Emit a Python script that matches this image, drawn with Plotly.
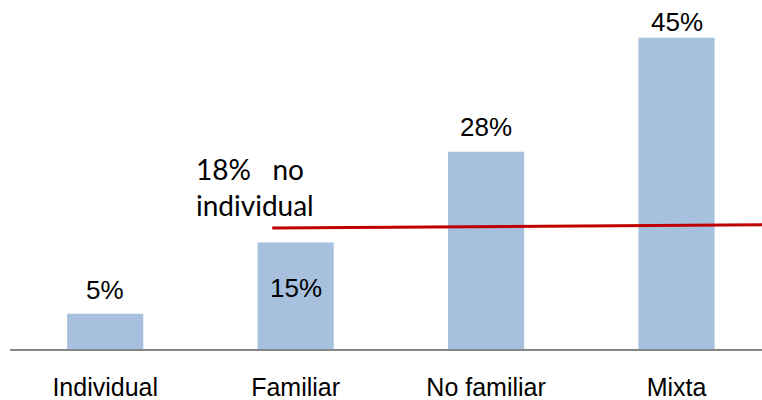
import plotly.graph_objects as go

categories = ["Individual", "Familiar", "No familiar", "Mixta"]
values = [5.1, 15.4, 28.5, 45]
value_labels = ["5%", "15%", "28%", "45%"]
label_shift = [24, -46, 25, 16]

ref_line_x = [0.877, 3.449]
ref_line_y = [17.5, 17.95]
note_lines = ["18%\u00a0\u00a0\u00a0no", "individual"]
note_x = 0.468
note_y = [26.0, 20.8]

fig = go.Figure()
fig.add_trace(go.Bar(
    x=list(range(len(categories))), y=values, width=0.4,
    marker=dict(color="#A7C0DE", line=dict(width=0)),
    hoverinfo="skip",
))

for i, (v, t, s) in enumerate(zip(values, value_labels, label_shift)):
    fig.add_annotation(x=i, y=v, text=t, showarrow=False, yshift=s,
                       xanchor="center", yanchor="middle",
                       font=dict(family="Liberation Sans, Arial", size=26, color="black"))

fig.add_shape(type="line", xref="x", yref="y",
              x0=ref_line_x[0], y0=ref_line_y[0], x1=ref_line_x[1], y1=ref_line_y[1],
              line=dict(color="#C00000", width=3))

for t, y in zip(note_lines, note_y):
    fig.add_annotation(x=note_x, y=y, text=t, showarrow=False,
                       xanchor="left", yanchor="middle",
                       font=dict(family="Lato, Open Sans", size=28, color="black"))

fig.update_layout(
    width=762, height=400,
    margin=dict(l=10, r=0, t=0, b=51),
    plot_bgcolor="white", paper_bgcolor="white",
    showlegend=False,
    bargap=0.6,
)
fig.update_xaxes(
    range=[-0.5, 3.449], tickmode="array",
    tickvals=list(range(len(categories))), ticktext=categories,
    showline=True, linecolor="#868686", linewidth=2,
    showgrid=False, zeroline=False, ticks="",
    ticklabelstandoff=15,
    tickfont=dict(family="Liberation Sans, Arial", size=25, color="black"),
)
fig.update_yaxes(range=[0, 50.45], visible=False, showgrid=False, zeroline=False)

fig.write_html("out.html")
